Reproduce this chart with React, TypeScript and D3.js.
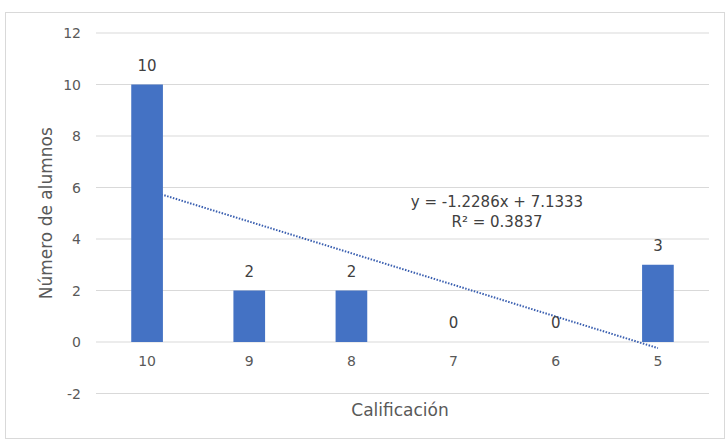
import React from "react";
import * as d3 from "d3";

const categories = ["10", "9", "8", "7", "6", "5"];
const values = [10, 2, 2, 0, 0, 3];
const yTicks = [-2, 0, 2, 4, 6, 8, 10, 12];
const trendSlope = -1.2286;
const trendIntercept = 7.1333;
const equationLines = ["y = -1.2286x + 7.1333", "R² = 0.3837"];

const W = 725;
const H = 439;
const font = "'DejaVu Sans', Verdana, sans-serif";
const textColor = "#595959";

export default function App() {
  const left = 96, right = 709, top = 33, bottom = 393.5;
  const x = d3.scaleBand<string>().domain(categories).range([left, right]).paddingInner(0.69).paddingOuter(0.345);
  const y = d3.scaleLinear().domain([-2, 12]).range([bottom, top]);
  const center = (c: string) => (x(c) as number) + x.bandwidth() / 2;
  const xIdx = d3.scaleLinear().domain([1, categories.length]).range([center(categories[0]), center(categories[categories.length - 1])]);
  const trend = d3.line<number>().x((i) => xIdx(i)).y((i) => y(trendIntercept + trendSlope * i));
  const trendPts = [1, categories.length];
  const eqX = 497;

  return (
    <svg width={W} height={H} style={{ position: "absolute", left: 0, top: 0, background: "#fff" }} fontFamily={font}>
      <rect x={5.5} y={12.5} width={W - 6} height={H - 13} fill="#fff" stroke="#d9d9d9" strokeWidth={1} />
      {yTicks.map((t) => (
        <g key={t}>
          <line x1={left} x2={right} y1={y(t)} y2={y(t)} stroke="#d9d9d9" strokeWidth={1} />
          <text x={81} y={y(t)} dy="0.36em" textAnchor="end" fontSize={14} fill={textColor}>{t}</text>
        </g>
      ))}
      <path d={trend(trendPts) || ""} fill="none" stroke="#3a5fb0" strokeWidth={2} strokeDasharray="1.5 1.5" />
      {categories.map((c, i) => (
        <g key={c}>
          {values[i] > 0 && (
            <rect x={x(c)} y={y(values[i])} width={x.bandwidth()} height={y(0) - y(values[i])} fill="#4472C4" />
          )}
          <text x={center(c)} y={y(values[i]) - 14} textAnchor="middle" fontSize={15} fill="#404040">{values[i]}</text>
          <text x={center(c)} y={y(0) + 24} textAnchor="middle" fontSize={14} fill={textColor}>{c}</text>
        </g>
      ))}
      <text x={eqX} y={207} textAnchor="middle" fontSize={15} fill="#404040">{equationLines[0]}</text>
      <text x={eqX} y={227} textAnchor="middle" fontSize={15} fill="#404040">{equationLines[1]}</text>
      <text x={400} y={416} textAnchor="middle" fontSize={17} fill={textColor}>Calificación</text>
      <text transform={`translate(52, ${(top + bottom) / 2}) rotate(-90)`} textAnchor="middle" fontSize={17} fill={textColor}>Número de alumnos</text>
    </svg>
  );
}
